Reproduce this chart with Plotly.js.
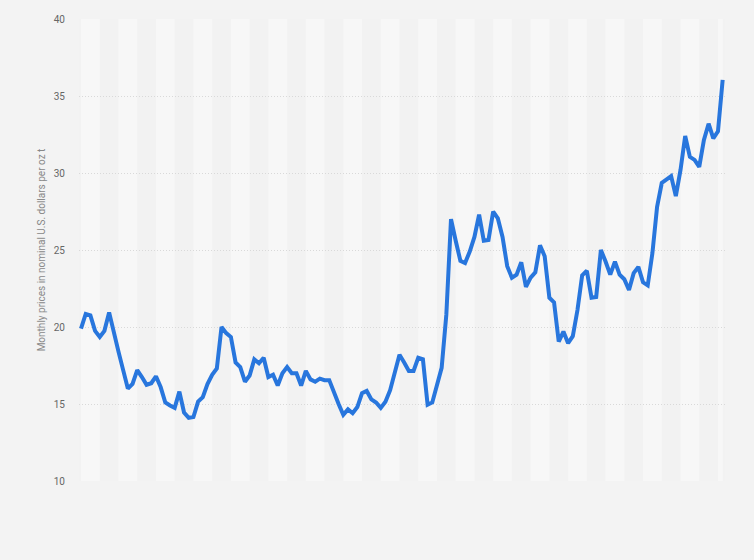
<!DOCTYPE html>
<html>
<head>
<meta charset="utf-8">
<script src="https://cdn.plot.ly/plotly-3.0.1.min.js"></script>
<style>
  html, body { margin: 0; padding: 0; background: #f3f3f3; }
  #graph { width: 754px; height: 560px; }
</style>
</head>
<body>
<div id="graph"></div>
<script>
// monthly silver price, nominal US$ per oz t, Jan 2014 - Jun 2025
var price2014 = [19.9, 20.85, 20.75, 19.75, 19.35, 19.75, 20.95, 19.8, 18.4, 17.2, 16.0, 16.3];
var price2015 = [17.2, 16.75, 16.25, 16.35, 16.8, 16.1, 15.1, 14.9, 14.75, 15.8, 14.45, 14.1];
var price2016 = [14.15, 15.15, 15.45, 16.3, 16.9, 17.3, 20.0, 19.6, 19.35, 17.7, 17.4, 16.45];
var price2017 = [16.85, 17.9, 17.65, 18.0, 16.75, 16.9, 16.2, 17.0, 17.4, 17.0, 17.0, 16.2];
var price2018 = [17.15, 16.6, 16.45, 16.65, 16.55, 16.55, 15.7, 15.0, 14.3, 14.65, 14.4, 14.8];
var price2019 = [15.7, 15.85, 15.3, 15.1, 14.75, 15.15, 15.9, 17.1, 18.2, 17.7, 17.15, 17.15];
var price2020 = [18.0, 17.9, 14.95, 15.1, 16.3, 17.35, 20.8, 27.0, 25.6, 24.3, 24.15, 24.9];
var price2021 = [25.85, 27.3, 25.6, 25.65, 27.5, 27.05, 25.85, 23.95, 23.2, 23.4, 24.2, 22.6];
var price2022 = [23.2, 23.55, 25.3, 24.6, 21.9, 21.6, 19.05, 19.7, 18.95, 19.4, 21.1, 23.35];
var price2023 = [23.65, 21.9, 21.95, 25.0, 24.25, 23.4, 24.25, 23.4, 23.1, 22.4, 23.5, 23.9];
var price2024 = [22.9, 22.7, 24.8, 27.8, 29.35, 29.55, 29.8, 28.5, 30.2, 32.4, 31.05, 30.85];
var price2025 = [30.4, 32.15, 33.2, 32.25, 32.7, 36.05];

var startYear = 2014;
var monthNames = ["Jan", "Feb", "Mar", "Apr", "May", "Jun", "Jul", "Aug", "Sep", "Oct", "Nov", "Dec"];
var yTicks = [10, 15, 20, 25, 30, 35, 40];

var prices = [].concat(price2014, price2015, price2016, price2017, price2018, price2019,
  price2020, price2021, price2022, price2023, price2024, price2025);

var months = [];
for (var i = 0; i < prices.length; i++) {
  months.push(monthNames[i % 12] + " " + (startYear + Math.floor(i / 12)));
}

// alternating background bands, 4 months wide
var shapes = [];
for (var k = 0; k < prices.length; k += 8) {
  shapes.push({
    type: "rect", xref: "x", yref: "paper", layer: "below",
    x0: k, x1: Math.min(k + 4, prices.length - 1), y0: 0, y1: 1,
    fillcolor: "#f7f7f7", line: { width: 0 }
  });
}

var trace = {
  x: months.map(function (m, i) { return i; }),
  y: prices,
  text: months,
  mode: "lines",
  line: { color: "#2876dd", width: 4 },
  hoverinfo: "text+y"
};

var layout = {
  width: 754,
  height: 560,
  paper_bgcolor: "#f3f3f3",
  plot_bgcolor: "#f2f2f2",
  showlegend: false,
  margin: { t: 19, l: 79, r: 29, b: 79 },
  font: { family: "Roboto, Arial, sans-serif", size: 10, color: "#666666" },
  xaxis: {
    range: [-0.43, 137.5],
    showticklabels: false,
    showgrid: false,
    zeroline: false,
    showline: false,
    ticks: ""
  },
  yaxis: {
    range: [10, 40],
    tickvals: yTicks,
    showgrid: true,
    gridcolor: "#d9d9d9",
    griddash: "1px,2px",
    gridwidth: 1,
    zeroline: false,
    showline: false,
    ticks: "",
    ticklabelstandoff: 13,
    tickfont: { size: 10, color: "#666666" },
    title: {
      text: "Monthly prices in nominal U.S. dollars per oz t",
      font: { size: 10, color: "#888888" },
      standoff: 6
    }
  },
  shapes: shapes
};

Plotly.newPlot("graph", [trace], layout, { displayModeBar: false, staticPlot: true });
</script>
</body>
</html>
